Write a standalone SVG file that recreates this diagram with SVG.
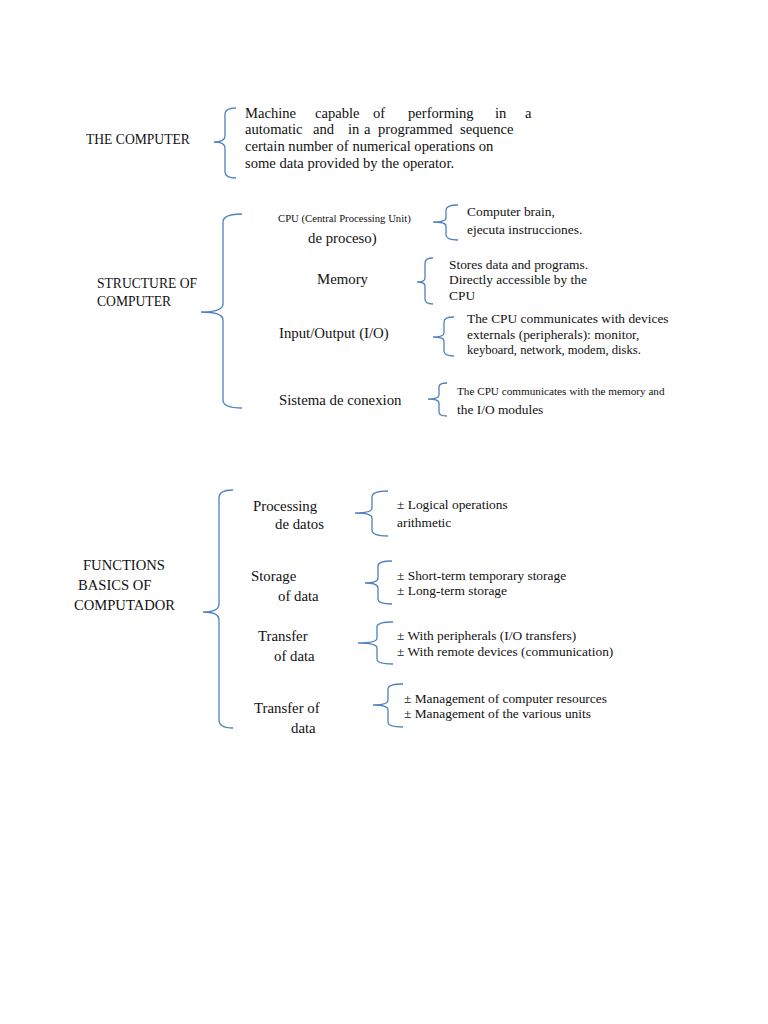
<svg xmlns="http://www.w3.org/2000/svg" width="768" height="1024" viewBox="0 0 768 1024">
<style>
.t{font-family:"Liberation Serif","Times New Roman",serif;font-size:14px;fill:#111}
.p{font-size:14.6px}
.l{font-size:14.8px}
.h{font-size:13.6px}
.r{font-size:13.4px}
.kb{font-size:12.6px}
.xs{font-size:11.2px}
.xxs{font-size:10.7px}
.b{fill:none;stroke:#4f81bd;stroke-width:1.3}
</style>
<rect width="768" height="1024" fill="#fff"/>
<g id="connectors">
<path class="b" d="M236 108 Q225 108 225 114 L225 136 Q225 142 214 142 Q225 142 225 148 L225 172 Q225 178 236 178"/>
<path class="b" d="M242 214 Q223 214 223 222 L223 304 Q223 312 201 312 Q223 312 223 320 L223 400 Q223 408 242 408"/>
<path class="b" d="M458 205 Q446 205 446 210 L446 218 Q446 222 433 222 Q446 222 446 226 L446 235 Q446 240 458 240"/>
<path class="b" d="M433 258 Q425 258 425 263 L425 278 Q425 282 417 282 Q425 282 425 286 L425 299 Q425 304 433 304"/>
<path class="b" d="M454 317 Q444 317 444 322 L444 333 Q444 337 433 337 Q444 337 444 341 L444 351 Q444 356 454 356"/>
<path class="b" d="M447 383 Q439 383 439 387 L439 395 Q439 399 428 399 Q439 399 439 403 L439 412 Q439 416 447 416"/>
<path class="b" d="M233 490 Q219 490 219 498 L219 604 Q219 612 203 612 Q219 612 219 620 L219 720 Q219 728 233 728"/>
<path class="b" d="M388 491 Q372 491 372 497 L372 508 Q372 513 355 513 Q372 513 372 518 L372 530 Q372 536 388 536"/>
<path class="b" d="M392 561 Q378 561 378 566 L378 578 Q378 583 365 583 Q378 583 378 588 L378 599 Q378 604 392 604"/>
<path class="b" d="M393 622 Q377 622 377 627 L377 638 Q377 643 358 643 Q377 643 377 648 L377 659 Q377 664 393 664"/>
<path class="b" d="M403 684 Q388 684 388 689 L388 700 Q388 705 373 705 Q388 705 388 710 L388 722 Q388 727 403 727"/>
</g>
<g id="computer">
<text class="t h" x="86" y="144">THE COMPUTER</text>
</g>
<g id="computer-desc">
<text class="t p" y="118"><tspan x="245">Machine</tspan><tspan x="315">capable</tspan><tspan x="373">of</tspan><tspan x="408">performing</tspan><tspan x="495">in</tspan><tspan x="525">a</tspan></text>
<text class="t p" y="134"><tspan x="245">automatic</tspan><tspan x="313">and</tspan><tspan x="348">in</tspan><tspan x="364">a</tspan><tspan x="378">programmed</tspan><tspan x="460">sequence</tspan></text>
<text class="t p" x="245" y="151">certain number of numerical operations on</text>
<text class="t p" x="245" y="168">some data provided by the operator.</text>
</g>
<g id="structure">
<text class="t h" x="97" y="288">STRUCTURE OF</text>
<text class="t h" x="97" y="306">COMPUTER</text>
</g>
<g id="cpu">
<text class="t xxs" x="278" y="222">CPU (Central Processing Unit)</text>
<text class="t l" x="308" y="243">de proceso)</text>
</g>
<g id="cpu-desc">
<text class="t r" x="467" y="216">Computer brain,</text>
<text class="t r" x="467" y="234">ejecuta instrucciones.</text>
</g>
<g id="memory">
<text class="t l" x="317" y="284">Memory</text>
</g>
<g id="memory-desc">
<text class="t r" x="449" y="269">Stores data and programs.</text>
<text class="t r" x="449" y="284">Directly accessible by the</text>
<text class="t r" x="449" y="300">CPU</text>
</g>
<g id="io">
<text class="t l" x="279" y="338">Input/Output (I/O)</text>
</g>
<g id="io-desc">
<text class="t r" x="467" y="323">The CPU communicates with devices</text>
<text class="t r" x="467" y="339">externals (peripherals): monitor,</text>
<text class="t kb" x="467" y="354">keyboard, network, modem, disks.</text>
</g>
<g id="sistema">
<text class="t l" x="279" y="405">Sistema de conexion</text>
</g>
<g id="sistema-desc">
<text class="t xs" x="457" y="395">The CPU communicates with the memory and</text>
<text class="t r" x="457" y="414">the I/O modules</text>
</g>
<g id="functions">
<text class="t p" x="83" y="570">FUNCTIONS</text>
<text class="t p" x="78" y="590">BASICS OF</text>
<text class="t p" x="74" y="610">COMPUTADOR</text>
</g>
<g id="processing">
<text class="t l" x="253" y="511">Processing</text>
<text class="t l" x="275" y="529">de datos</text>
</g>
<g id="processing-desc">
<text class="t r" x="397" y="509">± Logical operations</text>
<text class="t r" x="397" y="527">arithmetic</text>
</g>
<g id="storage">
<text class="t l" x="251" y="581">Storage</text>
<text class="t l" x="278" y="601">of data</text>
</g>
<g id="storage-desc">
<text class="t r" x="397" y="580">± Short-term temporary storage</text>
<text class="t r" x="397" y="595">± Long-term storage</text>
</g>
<g id="transfer1">
<text class="t l" x="258" y="641">Transfer</text>
<text class="t l" x="274" y="661">of data</text>
</g>
<g id="transfer1-desc">
<text class="t r" x="397" y="640">± With peripherals (I/O transfers)</text>
<text class="t r" x="397" y="656">± With remote devices (communication)</text>
</g>
<g id="transfer2">
<text class="t l" x="254" y="713">Transfer of</text>
<text class="t l" x="291" y="733">data</text>
</g>
<g id="transfer2-desc">
<text class="t r" x="404" y="703">± Management of computer resources</text>
<text class="t r" x="404" y="718">± Management of the various units</text>
</g>
</svg>
